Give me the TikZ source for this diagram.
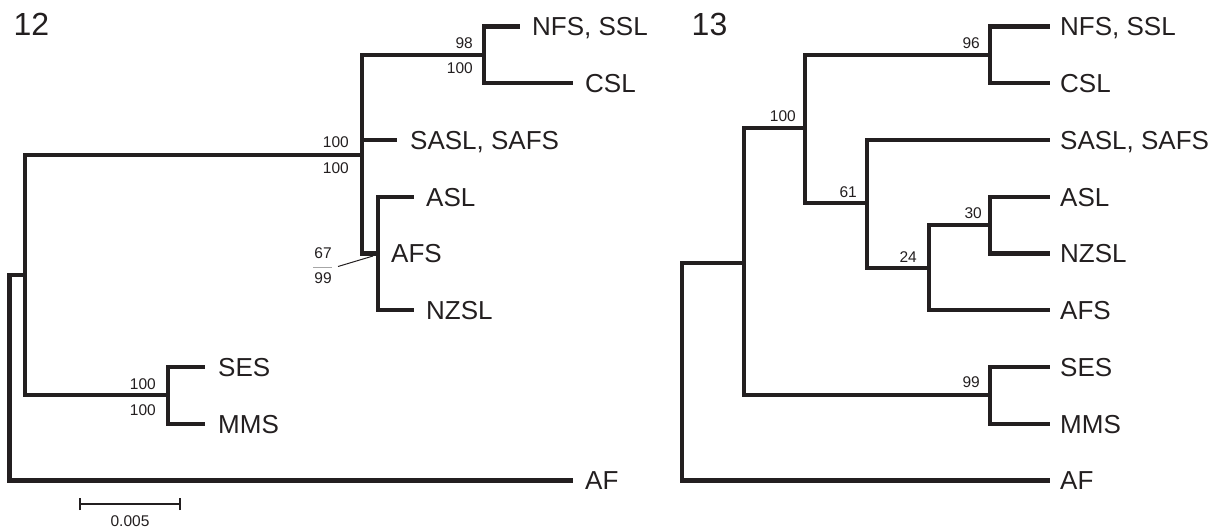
\documentclass[tikz,border=0pt]{standalone}
\usepackage{fontspec}
\setmainfont{Liberation Sans}
\definecolor{ink}{HTML}{231F20}
\tikzset{
  br/.style={line width=4.2pt, draw=ink, line join=miter, line cap=butt},
  leaflbl/.style={anchor=west, inner sep=0pt, font=\fontsize{26}{26}\selectfont, text height=18.6pt, text depth=0pt, text=ink},
  bootlbl/.style={anchor=east, inner sep=0pt, font=\fontsize{15.5}{15.5}\selectfont, text height=11pt, text depth=0pt, text=ink},
  bootc/.style={anchor=center, inner sep=0pt, font=\fontsize{15.5}{15.5}\selectfont, text height=11pt, text depth=0pt, text=ink},
  paneltitle/.style={anchor=north west, inner sep=0pt, font=\fontsize{32}{32}\selectfont, text height=22.9pt, text depth=0pt, text=ink},
  scalebar/.style={line width=2.2pt, draw=ink, line cap=butt},
  pointer/.style={line width=1pt, draw=ink},
  fracbar/.style={line width=1pt, draw=black!35}
}
\begin{document}
\begin{tikzpicture}[x=1pt,y=-1pt]
\useasboundingbox (0,0) rectangle (1220,530);

% ---------------- Tree 12 ----------------
\node[paneltitle] (t12) at (13.5,12) {12};

\coordinate (rootL) at (9.5,378);
\coordinate (inL) at (25,275);
\coordinate (c1) at (362,155);
\coordinate (pinn) at (484,55);
\coordinate (aC) at (378,253.5);
\coordinate (sesL) at (168,395);

\coordinate (nfsL) at (520,26.5);
\coordinate (cslL) at (573,83.25);
\coordinate (saslL) at (397,140);
\coordinate (aslL) at (414,196.75);
\coordinate (nzslL) at (414,310.25);
\coordinate (sesTL) at (205,367);
\coordinate (mmsTL) at (205,423.75);
\coordinate (afL) at (573,480.5);

\draw[br] (rootL) |- (inL);
\draw[br] (rootL) |- (afL);
\draw[br] (inL) |- (c1);
\draw[br] (inL) |- (sesL);
\draw[br] (c1) |- (pinn);
\draw[br] (c1) |- (saslL);
\draw[br] (c1) |- (aC);
\draw[br] (pinn) |- (nfsL);
\draw[br] (pinn) |- (cslL);
\draw[br] (aC) |- (aslL);
\draw[br] (aC) |- (nzslL);
\draw[br] (sesL) |- (sesTL);
\draw[br] (sesL) |- (mmsTL);

\node[leaflbl] (lNFS) at (532,26.5) {NFS, SSL};
\node[leaflbl] (lCSL) at (585,83.25) {CSL};
\node[leaflbl] (lSASL) at (410,140) {SASL, SAFS};
\node[leaflbl] (lASL) at (426,196.75) {ASL};
\node[leaflbl] (lAFS) at (391,253.5) {AFS};
\node[leaflbl] (lNZSL) at (426,310.25) {NZSL};
\node[leaflbl] (lSES) at (218,367) {SES};
\node[leaflbl] (lMMS) at (218,423.75) {MMS};
\node[leaflbl] (lAF) at (585,480.5) {AF};

\node[bootlbl] (b98) at (473,42.5) {98};
\node[bootlbl] (b100p) at (473,68) {100};
\node[bootlbl] (b100a) at (349,142) {100};
\node[bootlbl] (b100b) at (349,168) {100};
\node[bootlbl] (b100s) at (156,384) {100};
\node[bootlbl] (b100t) at (156,410) {100};

\node[bootc] (b67) at (323,253) {67};
\node[bootc] (b99) at (323,278) {99};
\coordinate (fb1) at (313,267);
\coordinate (fb2) at (332,267);
\draw[fracbar] (fb1) -- (fb2);
\coordinate (ptrA) at (338,266.5);
\coordinate (ptrB) at (373,256);
\draw[pointer] (ptrA) -- (ptrB);

% scale bar
\coordinate (sb1) at (80,504);
\coordinate (sb2) at (180,504);
\draw[scalebar] (sb1) -- (sb2);
\draw[scalebar] ([yshift=-6pt]sb1) -- ([yshift=6pt]sb1);
\draw[scalebar] ([yshift=-6pt]sb2) -- ([yshift=6pt]sb2);
\node[bootc] (sbl) at (130,520.5) {0.005};

% ---------------- Tree 13 ----------------
\node[paneltitle] (t13) at (691.5,12) {13};

\coordinate (rootR) at (682,372);
\coordinate (inR) at (744,263);
\coordinate (tR) at (805,128);
\coordinate (pinnR) at (990,55);
\coordinate (otR) at (867,203);
\coordinate (aR) at (929,268);
\coordinate (anR) at (990,225);
\coordinate (sesR) at (990,395);

\coordinate (nfsR) at (1050,26.5);
\coordinate (cslR) at (1050,83.25);
\coordinate (saslR) at (1050,140);
\coordinate (aslR) at (1050,196.75);
\coordinate (nzslR) at (1050,253.5);
\coordinate (afsR) at (1050,310.25);
\coordinate (sesTR) at (1050,367);
\coordinate (mmsTR) at (1050,423.75);
\coordinate (afR) at (1050,480.5);

\draw[br] (rootR) |- (inR);
\draw[br] (rootR) |- (afR);
\draw[br] (inR) |- (tR);
\draw[br] (inR) |- (sesR);
\draw[br] (tR) |- (pinnR);
\draw[br] (tR) |- (otR);
\draw[br] (pinnR) |- (nfsR);
\draw[br] (pinnR) |- (cslR);
\draw[br] (otR) |- (saslR);
\draw[br] (otR) |- (aR);
\draw[br] (aR) |- (anR);
\draw[br] (aR) |- (afsR);
\draw[br] (anR) |- (aslR);
\draw[br] (anR) |- (nzslR);
\draw[br] (sesR) |- (sesTR);
\draw[br] (sesR) |- (mmsTR);

\node[leaflbl] (rNFS) at (1060,26.5) {NFS, SSL};
\node[leaflbl] (rCSL) at (1060,83.25) {CSL};
\node[leaflbl] (rSASL) at (1060,140) {SASL, SAFS};
\node[leaflbl] (rASL) at (1060,196.75) {ASL};
\node[leaflbl] (rNZSL) at (1060,253.5) {NZSL};
\node[leaflbl] (rAFS) at (1060,310.25) {AFS};
\node[leaflbl] (rSES) at (1060,367) {SES};
\node[leaflbl] (rMMS) at (1060,423.75) {MMS};
\node[leaflbl] (rAF) at (1060,480.5) {AF};

\node[bootlbl] (r96) at (980,43) {96};
\node[bootlbl] (r100) at (796,116) {100};
\node[bootlbl] (r61) at (857,192) {61};
\node[bootlbl] (r30) at (982,213) {30};
\node[bootlbl] (r24) at (917,257) {24};
\node[bootlbl] (r99) at (980,382) {99};
\end{tikzpicture}
\end{document}
